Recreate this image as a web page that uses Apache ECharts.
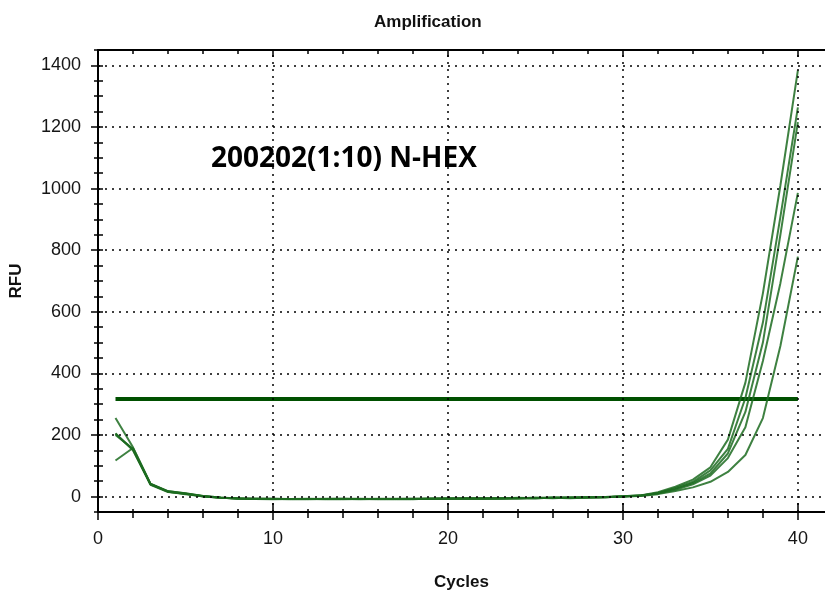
<!DOCTYPE html>
<html>
<head>
<meta charset="utf-8">
<script src="https://cdn.jsdelivr.net/npm/echarts@6/dist/echarts.min.js"></script>
<style>
html,body{margin:0;padding:0;background:#fff;}
#chart{width:825px;height:598px;}
</style>
</head>
<body>
<div id="chart"></div>
<script>
// ---- data ----
const cycles = [1,2,3,4,5,6,7,8,9,10,11,12,13,14,15,16,17,18,19,20,21,22,23,24,25,26,27,28,29,30,31,32,33,34,35,36,37,38,39,40];
const rfuA = [255,160,42,18,10,2,-3,-6,-7,-8,-8,-7,-8,-7,-8,-8,-9,-8,-7,-6,-6,-7,-6,-5,-4,-4,-5,-3,-2,0,4,14,32,55,95,185,370,660,1010,1384];
const rfuB = [205,150,40,16,8,1,-4,-6,-8,-9,-8,-8,-9,-8,-7,-9,-8,-7,-8,-6,-7,-6,-5,-6,-5,-3,-4,-3,-1,1,3,12,28,48,85,155,320,565,908,1264];
const rfuC = [200,155,38,15,9,0,-4,-5,-7,-7,-8,-9,-7,-8,-8,-7,-8,-9,-6,-7,-5,-6,-6,-4,-5,-4,-3,-2,-2,1,4,11,25,44,75,140,275,500,850,1216];
const rfuD = [205,152,40,17,11,2,-3,-7,-8,-7,-9,-8,-8,-9,-8,-8,-7,-8,-7,-7,-6,-5,-6,-5,-4,-5,-3,-3,-1,0,3,10,22,40,68,125,225,440,693,986];
const rfuE = [117,158,41,16,9,1,-4,-6,-7,-8,-8,-8,-8,-7,-9,-8,-8,-7,-7,-6,-6,-6,-5,-5,-5,-4,-4,-2,-2,0,2,8,18,30,48,80,135,255,489,779];
const thresholdValue = 317;
const thresholdCycles = [1, 40];
const yTicks = [0,200,400,600,800,1000,1200,1400];
const xTicks = [0,10,20,30,40];
const xMinorTicks = [0,2,4,6,8,10,12,14,16,18,20,22,24,26,28,30,32,34,36,38,40];
const chartTitle = 'Amplification';
const sampleLabel = '200202(1:10) N-HEX';
const xName = 'Cycles';
const yName = 'RFU';

// ---- chart ----
const chart = echarts.init(document.getElementById('chart'), null, {renderer:'canvas'});
const X_MIN = 0, X_MAX = 41.55, Y_MIN = -50, Y_MAX = 1450;
const black = '#000';
const labelFont = {fontFamily:'Liberation Sans', fontSize:18, color:'#151515'};
const tickLine = {color:black, width:1.5};

function xAx(position, lineShow, tickVals, inside, len, extra){
  return Object.assign({
    type:'value', min:X_MIN, max:X_MAX, position:position,
    splitLine:{show:false},
    axisLine:{show:lineShow, onZero:false, lineStyle:{color:black, width:2}},
    axisTick:{show:true, inside:inside, length:len, customValues:tickVals, lineStyle:tickLine},
    axisLabel:{show:false}
  }, extra || {});
}
function yAx(lineShow, inside, len, extra){
  return Object.assign({
    type:'value', min:Y_MIN, max:Y_MAX, position:'left', interval:50,
    splitLine:{show:false},
    axisLine:{show:lineShow, onZero:false, lineStyle:{color:black, width:2}},
    axisTick:{show:true, inside:inside, length:len, lineStyle:tickLine},
    axisLabel:{show:false}
  }, extra || {});
}

const curveColor = '#1c6b20';
const curves = [rfuA, rfuB, rfuC, rfuD, rfuE].map((arr, k) => ({
  type:'line', name:'well'+k, xAxisIndex:0, yAxisIndex:0,
  data: cycles.map((c,i)=>[c, arr[i]]),
  showSymbol:false, symbol:'none',
  lineStyle:{color:curveColor, width:2, opacity:0.85},
  itemStyle:{color:curveColor},
  z:3, silent:true
}));

const gridLines = yTicks.map(v=>({yAxis:v})).concat(xTicks.filter(v=>v>0).map(v=>({xAxis:v})));

const option = {
  animation:false,
  backgroundColor:'#fff',
  title:{
    text:chartTitle, left:369, top:9,
    textStyle:{fontFamily:'Liberation Sans', fontSize:17, fontWeight:'bold', color:'#111'}
  },
  grid:{left:98, right:0, top:50, bottom:86, containLabel:false},
  xAxis:[
    xAx('bottom', true, xTicks, false, 8, {
      axisLabel:Object.assign({show:true, margin:18, customValues:xTicks, formatter:v=>String(v)}, labelFont),
      name:xName, nameLocation:'middle', nameGap:62,
      nameTextStyle:{fontFamily:'Liberation Sans', fontSize:17, fontWeight:'bold', color:'#111'}
    }),
    xAx('bottom', false, xMinorTicks, false, 6),
    xAx('bottom', false, xMinorTicks, true, 3),
    xAx('bottom', false, xTicks, true, 9),
    xAx('top', true, xMinorTicks, true, 4),
    xAx('top', false, xTicks, true, 7)
  ],
  yAxis:[
    {
      type:'value', min:Y_MIN, max:Y_MAX, position:'left',
      splitLine:{show:false},
      axisLine:{show:true, onZero:false, lineStyle:{color:black, width:2}},
      axisTick:{show:true, length:7, customValues:yTicks, lineStyle:tickLine},
      axisLabel:Object.assign({margin:17, customValues:yTicks, formatter:v=>String(v)}, labelFont),
      name:yName, nameLocation:'middle', nameGap:73, nameRotate:90,
      nameTextStyle:{fontFamily:'Liberation Sans', fontSize:17, fontWeight:'bold', color:'#111'}
    },
    yAx(false, true, 5),
    yAx(false, false, 4)
  ],
  graphic:[{
    type:'text', left:211, top:145, z:10,
    style:{text:sampleLabel, fontFamily:'Open Sans', fontSize:28, fontWeight:'bold', fill:'#000'}
  }],
  series:[{
    type:'line', name:'threshold', xAxisIndex:0, yAxisIndex:0,
    data: thresholdCycles.map(c=>[c, thresholdValue]),
    showSymbol:false, symbol:'none',
    lineStyle:{color:'#005000', width:4},
    z:2, silent:true,
    markLine:{
      silent:true, symbol:['none','none'], label:{show:false},
      lineStyle:{type:[2,5], color:black, width:1.5},
      emphasis:{disabled:true},
      data:gridLines
    }
  }].concat(curves)
};
chart.setOption(option);
</script>
</body>
</html>
